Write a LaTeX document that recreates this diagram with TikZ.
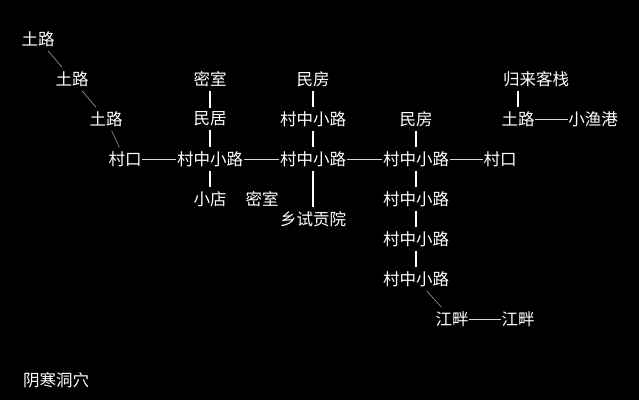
\documentclass[tikz,border=0pt]{standalone}
\usepackage{fontspec}
\newfontfamily\cjk{Noto Sans CJK SC}
\begin{document}
\begin{tikzpicture}[x=1pt,y=-1pt,
  n/.style={text=white,font=\cjk\fontsize{16.5}{16.5}\selectfont,inner xsep=0.5pt,inner ysep=4pt},
  v/.style={draw=white,line width=1.6pt},
  h/.style={draw=white!85!black,line width=1pt},
  d/.style={draw=white!60!black,line width=0.6pt}]
\fill[black] (0,0) rectangle (639,400);
\useasboundingbox (0,0) rectangle (639,400);
\node[n] (t1) at (38,39) {土路};
\node[n] (t2) at (72,79) {土路};
\node[n] (t3) at (106,119) {土路};
\node[n] (k1) at (125,159) {村口};
\node[n] (a) at (210,159) {村中小路};
\node[n] (m1) at (210,79) {密室};
\node[n] (mj) at (210,119) {民居};
\node[n] (xd) at (210,199) {小店};
\node[n] (m2) at (262,199) {密室};
\node[n] (mf1) at (313,79) {民房};
\node[n] (b1) at (313,119) {村中小路};
\node[n] (b) at (313,159) {村中小路};
\node[n] (xs) at (313,219) {乡试贡院};
\node[n] (c) at (416,159) {村中小路};
\node[n] (mf2) at (416,119) {民房};
\node[n] (c2) at (416,199) {村中小路};
\node[n] (c3) at (416,239) {村中小路};
\node[n] (c4) at (416,279) {村中小路};
\node[n] (j1) at (452,319) {江畔};
\node[n] (j2) at (518,319) {江畔};
\node[n] (k2) at (500,159) {村口};
\node[n] (t4) at (518,119) {土路};
\node[n] (gl) at (536,79) {归来客栈};
\node[n] (yg) at (593,119) {小渔港};
\node[n] (yh) at (56,380) {阴寒洞穴};
\draw[d] (t1) -- (t2);
\draw[d] (t2) -- (t3);
\draw[d] (t3) -- (k1);
\draw[d] (c4) -- (j1);
\draw[h] (k1) -- (a);
\draw[h] (a) -- (b);
\draw[h] (b) -- (c);
\draw[h] (c) -- (k2);
\draw[h] (t4) -- (yg);
\draw[h] (j1) -- (j2);
\draw[v] (m1) -- (mj);
\draw[v] (mj) -- (a);
\draw[v] (a) -- (xd);
\draw[v] (mf1) -- (b1);
\draw[v] (b1) -- (b);
\draw[v] (b) -- (xs);
\draw[v] (mf2) -- (c);
\draw[v] (c) -- (c2);
\draw[v] (c2) -- (c3);
\draw[v] (c3) -- (c4);
\draw[v] (t4.north) ++(0,0) -- (t4.north |- gl.south);
\end{tikzpicture}
\end{document}
